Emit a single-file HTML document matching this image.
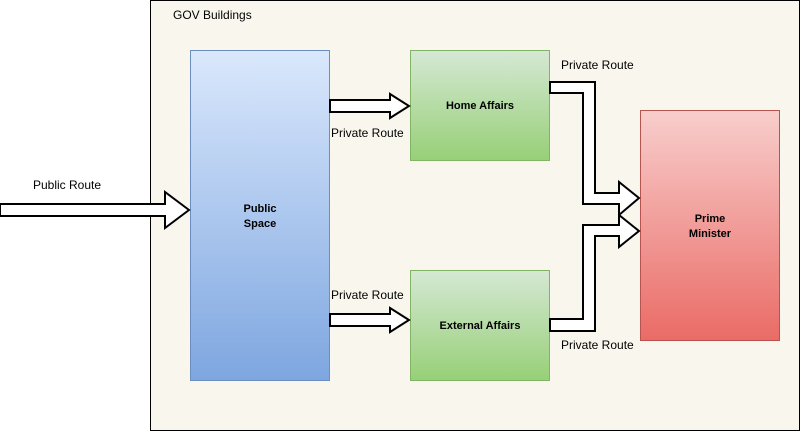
<!DOCTYPE html>
<html><head><style>
body{margin:0;width:801px;height:431px;background:#fff;font-family:"Liberation Sans",Arial,sans-serif;}
svg{display:block}
</style></head><body>
<svg width="801" height="431" xmlns="http://www.w3.org/2000/svg" font-family="Liberation Sans, Arial, sans-serif" font-size="12">
<defs>
<linearGradient id="b" x1="0" y1="0" x2="0" y2="1"><stop offset="0" stop-color="#dae8fc"/><stop offset="1" stop-color="#7ea6e0"/></linearGradient>
<linearGradient id="g" x1="0" y1="0" x2="0" y2="1"><stop offset="0" stop-color="#d5e8d4"/><stop offset="1" stop-color="#97d077"/></linearGradient>
<linearGradient id="r" x1="0" y1="0" x2="0" y2="1"><stop offset="0" stop-color="#f8cecc"/><stop offset="1" stop-color="#ea6b66"/></linearGradient>
</defs>
<rect x="150.5" y="0.5" width="649" height="430" fill="#f9f7ed" stroke="#000"/>
<text x="173" y="19" font-size="12">GOV Buildings</text>
<rect x="190.5" y="50.5" width="139" height="330" fill="url(#b)" stroke="#6c8ebf"/>
<text x="260" y="212" text-anchor="middle" font-weight="bold" font-size="11">Public</text>
<text x="260" y="227" text-anchor="middle" font-weight="bold" font-size="11">Space</text>
<rect x="410.5" y="50.5" width="139" height="110" fill="url(#g)" stroke="#82b366"/>
<text x="480" y="109" text-anchor="middle" font-weight="bold" font-size="11">Home Affairs</text>
<rect x="410.5" y="270.5" width="139" height="110" fill="url(#g)" stroke="#82b366"/>
<text x="480" y="329" text-anchor="middle" font-weight="bold" font-size="11">External Affairs</text>
<rect x="640.5" y="110.5" width="139" height="230" fill="url(#r)" stroke="#b85450"/>
<text x="710" y="222" text-anchor="middle" font-weight="bold" font-size="11">Prime</text>
<text x="710" y="237" text-anchor="middle" font-weight="bold" font-size="11">Minister</text>
<g fill="#fff" stroke="#000" stroke-width="2" stroke-linejoin="miter">
<polygon points="0,204 165,204 165,192 189,210 165,228 165,216 0,216"/>
<polygon points="330,100 390,100 390,94 409,106 390,118 390,112 330,112"/>
<polygon points="330,314 390,314 390,308 409,320 390,332 390,326 330,326"/>
<polygon points="550,82 595,82 595,193 619,193 619,182 639,198 619,215 619,204 583,204 583,93 550,93"/>
<polygon points="550,331 595,331 595,236 619,236 619,247 639,231 619,215 619,225 583,225 583,319 550,319"/>
</g>
<text x="33" y="189">Public Route</text>
<text x="331" y="137">Private Route</text>
<text x="331" y="299">Private Route</text>
<text x="561" y="69">Private Route</text>
<text x="561" y="349">Private Route</text>
</svg>
</body></html>
